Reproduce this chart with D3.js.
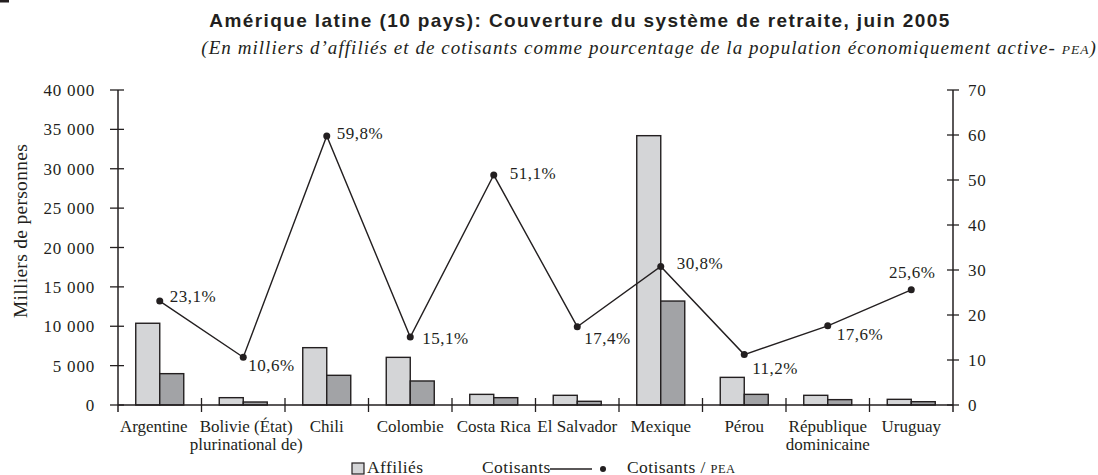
<!DOCTYPE html>
<html>
<head>
<meta charset="utf-8">
<script src="https://cdn.jsdelivr.net/npm/d3@7/dist/d3.min.js"></script>
<style>
  body { margin: 0; background: #fff; }
  text { font-family: "Liberation Serif", "Times New Roman", serif; fill: #231f20; }
</style>
</head>
<body>
<div id="chart"></div>
<script>
var w = 1098,
  h = 475;

// data
var pays = ['Argentine', 'Bolivie (État)|plurinational de)', 'Chili', 'Colombie', 'Costa Rica',
  'El Salvador', 'Mexique', 'Pérou', 'République|dominicaine', 'Uruguay'];
var affilies = [10380, 930, 7280, 6050, 1350, 1230, 34200, 3510, 1230, 720];
var cotisants = [3980, 380, 3770, 3050, 930, 470, 13200, 1350, 680, 420];
var pctPEA = [23.1, 10.6, 59.8, 15.1, 51.1, 17.4, 30.8, 11.2, 17.6, 25.6];
var pctLabels = ['23,1%', '10,6%', '59,8%', '15,1%', '51,1%', '17,4%', '30,8%', '11,2%', '17,6%', '25,6%'];
var leftTicks = [0, 5000, 10000, 15000, 20000, 25000, 30000, 35000, 40000];
var rightTicks = [0, 10, 20, 30, 40, 50, 60, 70];

// label offsets around the dots
var labelPos = [[10, -5, 'start'], [5, 8, 'start'], [10, -3, 'start'], [12, 1, 'start'], [16, -2, 'start'],
  [7, 11, 'start'], [16, -3, 'start'], [8, 13, 'start'], [9, 8, 'start'], [1, -18, 'middle']];
// nudges so the first two category names don't collide
var catShift = [-6, 3, 0, 0, 0, 0, 0, 0, 0, 0];

var pLeft = 118, pRight = 953, pTop = 90, pBottom = 405;

var svg = d3.select('#chart')
  .append('svg')
  .attr('width', w)
  .attr('height', h);

var x = d3.scaleBand()
  .domain(pays)
  .range([pLeft, pRight]);

var y = d3.scaleLinear()
  .domain([0, 40000])
  .range([pBottom, pTop]);

var y2 = d3.scaleLinear()
  .domain([0, 70])
  .range([pBottom, pTop]);

var fmt = function(d) { return d3.format(',')(d).replace(/,/g, ' '); };

// little mark in the corner
svg.append('rect').attr('x', 0).attr('y', 0).attr('width', 9).attr('height', 2.5).attr('fill', '#231f20');

////////////////////////
// titles
////////////////////////
svg.append('text')
  .attr('x', 580).attr('y', 27)
  .attr('text-anchor', 'middle')
  .style('font-family', '"Liberation Sans", Arial, sans-serif')
  .style('font-weight', 'bold')
  .style('font-size', '19px')
  .style('letter-spacing', '1.4px')
  .text('Amérique latine (10 pays): Couverture du système de retraite, juin 2005');

var sub = svg.append('text')
  .attr('x', 1097).attr('y', 54)
  .attr('text-anchor', 'end')
  .style('font-style', 'italic')
  .style('font-size', '19px')
  .style('letter-spacing', '1.05px');
sub.append('tspan').text('(En milliers d\u2019affiliés et de cotisants comme pourcentage de la population économiquement active- ');
sub.append('tspan').style('font-size', '13.5px').text('PEA');
sub.append('tspan').text(')');

////////////////////////
// bars
////////////////////////
var bw = 24;
var barGroup = svg.append('g').attr('class', 'bars');

barGroup.selectAll('.aff')
  .data(affilies)
  .enter().append('rect')
  .attr('x', function(d, i) { return x(pays[i]) + x.bandwidth() / 2 - bw; })
  .attr('y', function(d) { return y(d); })
  .attr('width', bw)
  .attr('height', function(d) { return pBottom - y(d); })
  .attr('fill', '#d4d5d7')
  .attr('stroke', '#231f20')
  .attr('stroke-width', 1.4);

barGroup.selectAll('.cot')
  .data(cotisants)
  .enter().append('rect')
  .attr('x', function(d, i) { return x(pays[i]) + x.bandwidth() / 2; })
  .attr('y', function(d) { return y(d); })
  .attr('width', bw)
  .attr('height', function(d) { return pBottom - y(d); })
  .attr('fill', '#a2a3a6')
  .attr('stroke', '#231f20')
  .attr('stroke-width', 1.4);

////////////////////////
// axes
////////////////////////
var axisColor = '#231f20';
var ax = svg.append('g').attr('class', 'axes');

ax.append('line')
  .attr('x1', pLeft).attr('x2', pLeft).attr('y1', pTop).attr('y2', pBottom + 7)
  .attr('stroke', axisColor).attr('stroke-width', 1.5);
ax.append('line')
  .attr('x1', pRight).attr('x2', pRight).attr('y1', pTop).attr('y2', pBottom + 7)
  .attr('stroke', axisColor).attr('stroke-width', 1.5);
ax.append('line')
  .attr('x1', pLeft).attr('x2', pRight).attr('y1', pBottom).attr('y2', pBottom)
  .attr('stroke', axisColor).attr('stroke-width', 1.5);

ax.selectAll('.lt')
  .data(leftTicks)
  .enter().append('line')
  .attr('x1', pLeft - 8).attr('x2', pLeft + 6)
  .attr('y1', function(d) { return y(d); }).attr('y2', function(d) { return y(d); })
  .attr('stroke', axisColor).attr('stroke-width', 1.3);

ax.selectAll('.ll')
  .data(leftTicks)
  .enter().append('text')
  .attr('x', 95)
  .attr('y', function(d) { return y(d) + 6; })
  .attr('text-anchor', 'end')
  .style('font-size', '17px')
  .style('letter-spacing', '0.8px')
  .text(function(d) { return fmt(d); });

ax.selectAll('.rt')
  .data(rightTicks)
  .enter().append('line')
  .attr('x1', pRight - 6).attr('x2', pRight + 6)
  .attr('y1', function(d) { return y2(d); }).attr('y2', function(d) { return y2(d); })
  .attr('stroke', axisColor).attr('stroke-width', 1.3);

ax.selectAll('.rl')
  .data(rightTicks)
  .enter().append('text')
  .attr('x', 968)
  .attr('y', function(d) { return y2(d) + 6; })
  .style('font-size', '17px')
  .style('letter-spacing', '0.8px')
  .text(function(d) { return d; });

// category boundary ticks
var bounds = pays.map(function(p) { return x(p); }).slice(1);
ax.selectAll('.ct')
  .data(bounds)
  .enter().append('line')
  .attr('x1', function(d) { return d; }).attr('x2', function(d) { return d; })
  .attr('y1', pBottom - 7).attr('y2', pBottom + 7)
  .attr('stroke', axisColor).attr('stroke-width', 1.3);

var catLabels = ax.selectAll('.cl')
  .data(pays)
  .enter().append('text')
  .attr('x', function(d, i) { return x(d) + x.bandwidth() / 2 + catShift[i]; })
  .attr('y', 432)
  .attr('text-anchor', 'middle')
  .style('font-size', '17px');
catLabels.each(function(d) {
  var parts = d.split('|');
  var t = d3.select(this);
  parts.forEach(function(p, i) {
    t.append('tspan')
      .attr('x', t.attr('x'))
      .attr('dy', i === 0 ? 0 : 18)
      .text(p);
  });
});

svg.append('text')
  .attr('transform', 'translate(27,231) rotate(-90)')
  .attr('text-anchor', 'middle')
  .style('font-size', '19.5px')
  .style('letter-spacing', '0.3px')
  .text('Milliers de personnes');

////////////////////////
// line
////////////////////////
var cx = function(i) { return x(pays[i]) + x.bandwidth() / 2; };
var line = d3.line()
  .x(function(d, i) { return cx(i); })
  .y(function(d) { return y2(d); });

svg.append('path')
  .datum(pctPEA)
  .attr('d', line)
  .attr('fill', 'none')
  .attr('stroke', '#231f20')
  .attr('stroke-width', 1.4);

svg.selectAll('.dot')
  .data(pctPEA)
  .enter().append('circle')
  .attr('cx', function(d, i) { return cx(i); })
  .attr('cy', function(d) { return y2(d); })
  .attr('r', 3.5)
  .attr('fill', '#231f20');

svg.selectAll('.pl')
  .data(pctPEA)
  .enter().append('text')
  .attr('x', function(d, i) { return cx(i) + labelPos[i][0]; })
  .attr('y', function(d, i) { return y2(d) + labelPos[i][1] + 6; })
  .attr('text-anchor', function(d, i) { return labelPos[i][2]; })
  .style('font-size', '17px')
  .style('letter-spacing', '0.5px')
  .text(function(d, i) { return pctLabels[i]; });

////////////////////////
// legend
////////////////////////
var lg = svg.append('g').attr('class', 'legend');
lg.append('rect')
  .attr('x', 352).attr('y', 463).attr('width', 12).attr('height', 11)
  .attr('fill', '#d4d5d7').attr('stroke', '#231f20').attr('stroke-width', 1.2);
lg.append('text').attr('x', 367).attr('y', 473).style('font-size', '17.5px').style('letter-spacing', '0.4px').text('Affiliés');
lg.append('text').attr('x', 482).attr('y', 473).style('font-size', '17.5px').style('letter-spacing', '0.4px').text('Cotisants');
lg.append('line')
  .attr('x1', 550).attr('x2', 592).attr('y1', 469).attr('y2', 469)
  .attr('stroke', '#231f20').attr('stroke-width', 1.3);
lg.append('circle').attr('cx', 603).attr('cy', 469).attr('r', 3).attr('fill', '#231f20');
var lt = lg.append('text').attr('x', 627).attr('y', 473).style('font-size', '17.5px').style('letter-spacing', '0.4px');
lt.append('tspan').text('Cotisants / ');
lt.append('tspan').style('font-size', '12.5px').text('PEA');
</script>
</body>
</html>
